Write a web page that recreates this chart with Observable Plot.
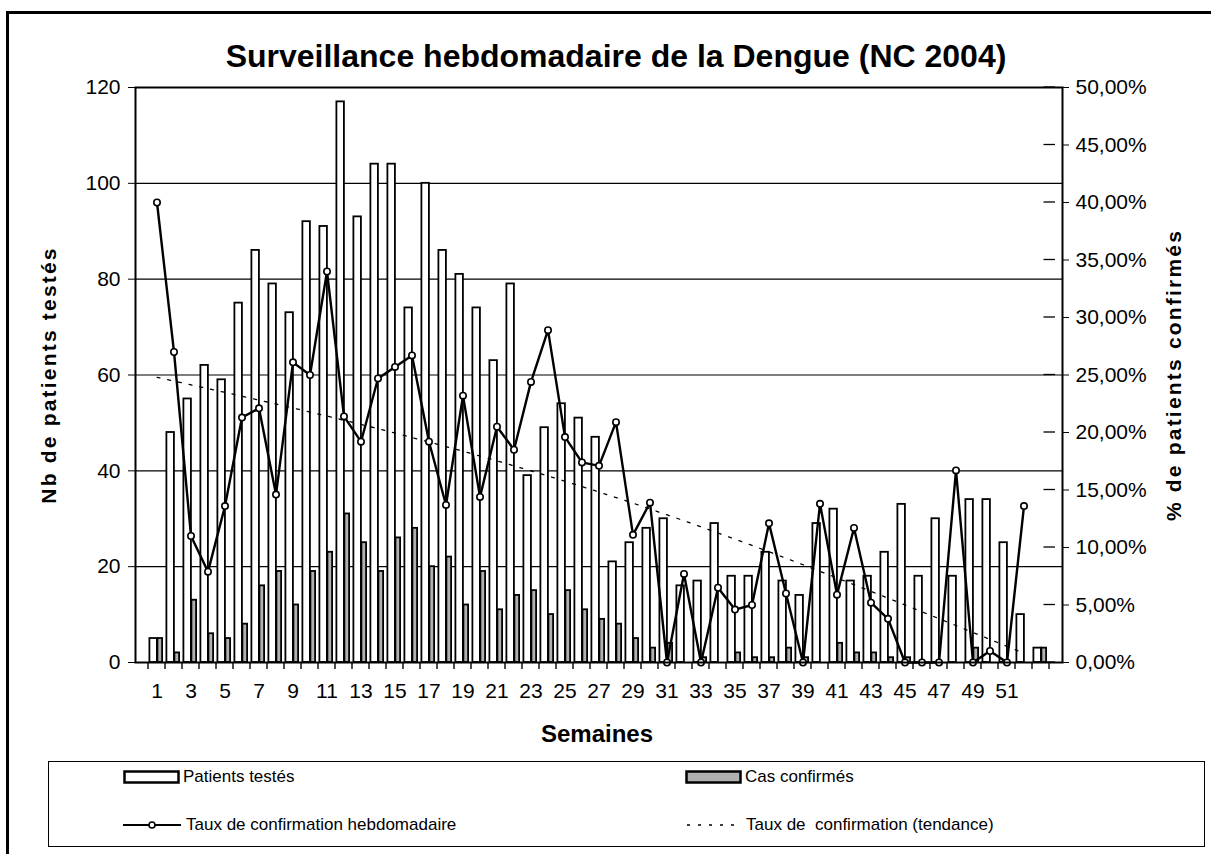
<!DOCTYPE html>
<html><head><meta charset="utf-8">
<script src="https://cdn.jsdelivr.net/npm/d3@7"></script>
<script src="https://cdn.jsdelivr.net/npm/@observablehq/plot@0.6"></script>
<style>
body{margin:0;background:#fff;}
#wrap{position:relative;width:1211px;height:854px;overflow:hidden;font-family:"Liberation Sans",Arial,sans-serif;color:#000;}
#title{position:absolute;left:0;width:1232px;top:38px;text-align:center;font-weight:bold;font-size:32px;}
#chart{position:absolute;left:0;top:70px;}
.fr{position:absolute;background:#000;}
#legend{position:absolute;left:48px;top:761px;width:1155px;height:84px;border:1.5px solid #000;}
.li{position:absolute;font-size:17px;white-space:pre;display:flex;align-items:center;}
.li svg{margin-right:3px;}
g[aria-label="y-axis label"] text{font-weight:bold;font-size:21px;letter-spacing:2.2px;}
</style></head><body><div id="wrap">
<div class="fr" style="left:6px;top:11px;width:1205px;height:3px"></div>
<div class="fr" style="left:6px;top:11px;width:3px;height:843px"></div>
<div id="title">Surveillance hebdomadaire de la Dengue (NC 2004)</div>
<div id="chart"></div>
<div id="semaines" style="position:absolute;top:720px;left:0;width:1194px;text-align:center;font-weight:bold;font-size:24px;">Semaines</div>
<div id="legend"></div>
</div>
<script>
const weeks = d3.range(1, 54);
const patients = [5,48,55,62,59,75,86,79,73,92,91,117,93,104,104,74,100,86,81,74,63,79,39,49,54,51,47,21,25,28,30,16,17,29,18,18,23,17,14,29,32,17,18,23,33,18,30,18,34,34,25,10,3];
const confirmed = [5,2,13,6,5,8,16,19,12,19,23,31,25,19,26,28,20,22,12,19,11,14,15,10,15,11,9,8,5,3,4,0,1,0,2,1,1,3,1,0,4,2,2,1,1,0,0,0,3,0,0,0,3];
const rateWeeks = d3.range(1, 53);
const rate = [40.0,27.0,11.0,7.9,13.6,21.3,22.1,14.6,26.1,25.0,34.0,21.4,19.2,24.7,25.7,26.7,19.2,13.7,23.2,14.4,20.5,18.5,24.4,28.9,19.6,17.4,17.1,20.9,11.1,13.9,0,7.7,0,6.5,4.6,5.0,12.1,6.0,0,13.8,5.9,11.7,5.2,3.8,0,0,0,16.7,0,1.0,0,13.6];
const trendWeeks = [1, 13, 26, 39, 52];
const trendRate = [24.8, 20.7, 15.3, 8.5, 0.8];
const leftTicks = [0, 20, 40, 60, 80, 100, 120];
const rightTicks = [0, 5, 10, 15, 20, 25, 30, 35, 40, 45, 50];
const xLabels = d3.range(1, 52, 2);

const K = 120 / 50; // % -> left-axis units
const bars = weeks.map((w, i) => ({week: w, patients: patients[i], confirmed: confirmed[i]}));
const rates = rateWeeks.map((w, i) => ({week: w, v: rate[i] * K}));
const trend = trendWeeks.map((w, i) => ({week: w, v: trendRate[i] * K}));

const W = 1211, H = 690, mL = 135, mR = 149, mT = 17, mB = 98;
const bw = (W - mL - mR) / weeks.length;
const yUnit = (H - mT - mB) / 120;
const font = '"Liberation Sans", Arial, sans-serif';
const lastWeek = weeks[weeks.length - 1];

const chart = Plot.plot({
  width: W, height: H,
  marginLeft: mL, marginRight: mR, marginTop: mT, marginBottom: mB,
  style: {fontFamily: font, fontSize: "21px", color: "#000", background: "transparent"},
  x: {type: "band", domain: weeks, padding: 0},
  y: {domain: [0, 120]},
  marks: [
    Plot.gridY(leftTicks.filter(d => d > 0 && d < 120), {stroke: "#000", strokeOpacity: 1, strokeWidth: 1.2}),
    Plot.barY(bars, {x: "week", y: "patients", fill: "#fff", stroke: "#000", strokeWidth: 1.8, insetLeft: 1.4, insetRight: bw - 9.4}),
    Plot.barY(bars, {x: "week", y: "confirmed", fill: "#b0b0b0", stroke: "#000", strokeWidth: 1.8, insetLeft: 9.4, insetRight: bw - 14.6}),
    Plot.line(trend, {x: "week", y: "v", curve: "natural", stroke: "#000", strokeWidth: 1.3, strokeDasharray: "3,8"}),
    Plot.line(rates, {x: "week", y: "v", stroke: "#000", strokeWidth: 2.4}),
    Plot.dot(rates, {x: "week", y: "v", r: 3.2, fill: "#fff", stroke: "#000", strokeWidth: 1.6}),
    // right-axis ticks crossing the axis line
    Plot.barY(rightTicks, {x: () => lastWeek, y1: d => d * K - 0.65 / yUnit, y2: d => d * K + 0.65 / yUnit, insetLeft: bw - 6, insetRight: -6, fill: "#000", clip: false}),
    Plot.axisX({ticks: xLabels, tickSize: 0, tickPadding: 21, label: null}),
    Plot.axisY({anchor: "left", ticks: leftTicks, tickSize: 7, tickPadding: 8, label: "Nb de patients testés", labelAnchor: "center", labelOffset: 94, labelArrow: "none"}),
    Plot.axisY({anchor: "right", ticks: rightTicks.map(d => d * K), tickSize: 6, tickPadding: 7,
      tickFormat: d => (d / K).toFixed(2).replace(".", ",") + "%", label: "% de patients confirmés", labelAnchor: "center", labelOffset: 118, labelArrow: "none"}),
    Plot.frame({stroke: "#000", strokeWidth: 2})
  ]
});
document.getElementById("chart").appendChild(chart);

// category boundary ticks below the x axis, placed with Plot's own x and y scales
const xs = chart.scale("x"), ys = chart.scale("y");
const y0 = ys.apply(0);
const bounds = weeks.map(w => xs.apply(w)).concat([xs.apply(lastWeek) + xs.bandwidth]);
d3.select(chart).append("g").attr("aria-label", "x-axis boundary ticks")
  .selectAll("line").data(bounds).join("line")
  .attr("x1", d => d).attr("x2", d => d)
  .attr("y1", y0).attr("y2", y0 + 7)
  .attr("stroke", "#000").attr("stroke-width", 1.4);

// legend
const L = document.getElementById("legend");
function item(left, top, svg, text) {
  const d = document.createElement("div");
  d.className = "li";
  d.style.left = left + "px"; d.style.top = top + "px";
  d.innerHTML = svg + "<span>" + text + "</span>";
  L.appendChild(d);
}
item(74, 5, '<svg width="57" height="16"><rect x="1.5" y="2.5" width="54" height="11" fill="#fff" stroke="#000" stroke-width="2.5"/></svg>', "Patients testés");
item(636, 5, '<svg width="57" height="16"><rect x="1.5" y="2.5" width="54" height="11" fill="#b0b0b0" stroke="#000" stroke-width="2.5"/></svg>', "Cas confirmés");
item(74, 53, '<svg width="60" height="16"><line x1="0" y1="8" x2="58" y2="8" stroke="#000" stroke-width="2.2"/><circle cx="29" cy="8" r="3" fill="#fff" stroke="#000" stroke-width="1.6"/></svg>', "Taux de confirmation hebdomadaire");
item(636, 53, '<svg width="58" height="16"><line x1="2" y1="8" x2="52" y2="8" stroke="#000" stroke-width="1.3" stroke-dasharray="3,8"/></svg>', "Taux de  confirmation (tendance)");
</script>
</body></html>
